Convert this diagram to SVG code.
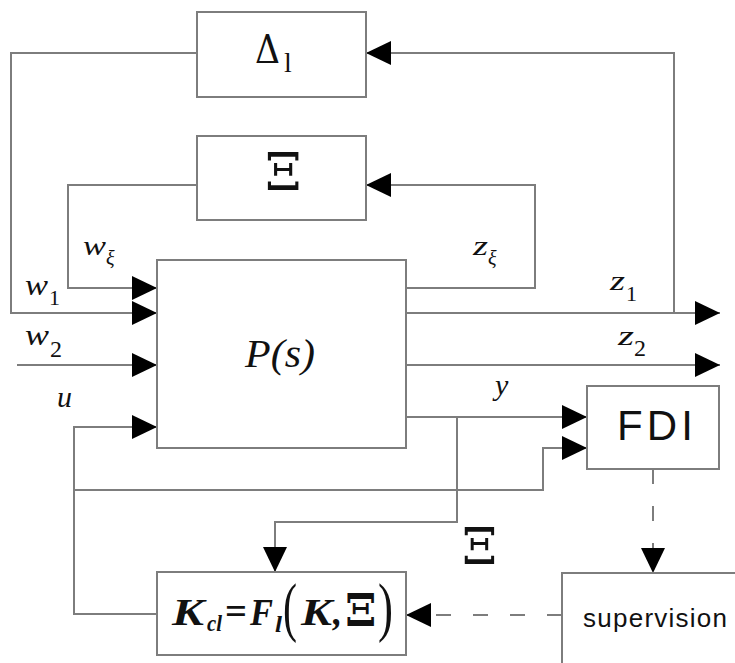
<svg xmlns="http://www.w3.org/2000/svg" width="735" height="663" viewBox="0 0 735 663">
<defs>
<marker id="arr" markerUnits="userSpaceOnUse" markerWidth="25" markerHeight="24" refX="25" refY="12" orient="auto" overflow="visible">
<path d="M0,0 L25,12 L0,24 Z" fill="#000" stroke="none"/>
</marker>
<style>
.box{fill:#fff;stroke:#7d7d7d;stroke-width:2}
.ln{fill:none;stroke:#7d7d7d;stroke-width:2}
.dash{fill:none;stroke:#7d7d7d;stroke-width:2;stroke-dasharray:15 22}
.m{font-family:"Liberation Serif","Times New Roman",serif;font-style:italic;fill:#111}
.r{font-family:"Liberation Serif","Times New Roman",serif;fill:#111}
.g{font-family:"DejaVu Serif","Liberation Serif",serif;fill:#111}
.s{font-family:"Liberation Sans",Arial,sans-serif;fill:#111}
</style>
</defs>
<rect width="735" height="663" fill="#fff"/>
<g id="connectors">
<path class="ln" d="M197,53 H11 V313 H157" marker-end="url(#arr)"/>
<path class="ln" d="M406,313 H720" marker-end="url(#arr)"/>
<path class="ln" d="M674,313 V53 H366" marker-end="url(#arr)"/>
<path class="ln" d="M197,185 H68 V288 H157" marker-end="url(#arr)"/>
<path class="ln" d="M406,288 H535 V185 H366" marker-end="url(#arr)"/>
<path class="ln" d="M17,365 H157" marker-end="url(#arr)"/>
<path class="ln" d="M406,365 H720" marker-end="url(#arr)"/>
<path class="ln" d="M157,614 H74 V427 H157" marker-end="url(#arr)"/>
<path class="ln" d="M74,490 H543 V448 H587" marker-end="url(#arr)"/>
<path class="ln" d="M406,417 H587" marker-end="url(#arr)"/>
<path class="ln" d="M457,417 V522 H275 V572" marker-end="url(#arr)"/>
<path class="dash" d="M653,469 V573" marker-end="url(#arr)"/>
<path class="dash" d="M562,615 H406" marker-end="url(#arr)"/>
</g>
<g id="delta">
<rect class="box" x="197" y="12" width="169" height="85"/>
<text class="g" x="255" y="63" font-size="40" textLength="25" lengthAdjust="spacingAndGlyphs">Δ</text>
<text class="r" x="284" y="72" font-size="28">l</text>
</g>
<g id="xi">
<rect class="box" x="197" y="136" width="169" height="84"/>
<text class="g" font-size="52" x="265" y="190">Ξ</text>
</g>
<g id="plant">
<rect class="box" x="157" y="260" width="249" height="188"/>
<text class="m" x="245" y="367" font-size="39" textLength="70" lengthAdjust="spacingAndGlyphs">P(s)</text>
</g>
<g id="fdi">
<rect class="box" x="587" y="386" width="132" height="83"/>
<text class="s" x="617" y="440" font-size="42" textLength="76" lengthAdjust="spacing">FDI</text>
</g>
<g id="controller">
<rect class="box" x="157" y="572" width="249" height="83"/>
<text class="m" font-weight="bold" font-size="37" x="172" y="625" textLength="32" lengthAdjust="spacingAndGlyphs">K</text>
<text class="m" font-weight="bold" font-size="24" x="207" y="631" textLength="15" lengthAdjust="spacingAndGlyphs">cl</text>
<text class="r" font-weight="bold" font-size="37" x="225" y="624" textLength="22" lengthAdjust="spacingAndGlyphs">=</text>
<text class="m" font-weight="bold" font-size="37" x="250" y="625" textLength="23" lengthAdjust="spacingAndGlyphs">F</text>
<text class="m" font-weight="bold" font-size="24" x="275" y="632" textLength="7" lengthAdjust="spacingAndGlyphs">l</text>
<text class="r" font-size="66" x="283" y="629" textLength="14" lengthAdjust="spacingAndGlyphs">(</text>
<text class="m" font-weight="bold" font-size="37" x="301" y="625" textLength="31" lengthAdjust="spacingAndGlyphs">K</text>
<text class="m" font-weight="bold" font-size="37" x="333" y="625">,</text>
<text class="g" font-weight="bold" font-size="45" x="345" y="626">Ξ</text>
<text class="r" font-size="66" x="378" y="629" textLength="15" lengthAdjust="spacingAndGlyphs">)</text>
</g>
<g id="supervision">
<rect class="box" x="562" y="573" width="200" height="120"/>
<text class="s" x="583" y="627" font-size="26" textLength="144" lengthAdjust="spacing">supervision</text>
</g>
<g id="labels">
<text class="m" x="83" y="255" font-size="28" textLength="23" lengthAdjust="spacingAndGlyphs">w</text>
<text class="m" x="106" y="265" font-size="20">ξ</text>
<text class="m" x="25" y="295" font-size="30" textLength="23" lengthAdjust="spacingAndGlyphs">w</text>
<text class="r" x="49" y="305" font-size="22">1</text>
<text class="m" x="25" y="345" font-size="30" textLength="24" lengthAdjust="spacingAndGlyphs">w</text>
<text class="r" x="50" y="357" font-size="24">2</text>
<text class="m" x="57" y="407" font-size="30">u</text>
<text class="m" x="473" y="255" font-size="28" textLength="15" lengthAdjust="spacingAndGlyphs">z</text>
<text class="m" x="488" y="265" font-size="20">ξ</text>
<text class="m" x="610" y="290" font-size="28" textLength="15" lengthAdjust="spacingAndGlyphs">z</text>
<text class="r" x="626" y="301" font-size="22">1</text>
<text class="m" x="618" y="345" font-size="28" textLength="16" lengthAdjust="spacingAndGlyphs">z</text>
<text class="r" x="634" y="356" font-size="24">2</text>
<text class="m" x="495" y="395" font-size="30">y</text>
<text class="g" font-size="50" x="462" y="564">Ξ</text>
</g>
</svg>
